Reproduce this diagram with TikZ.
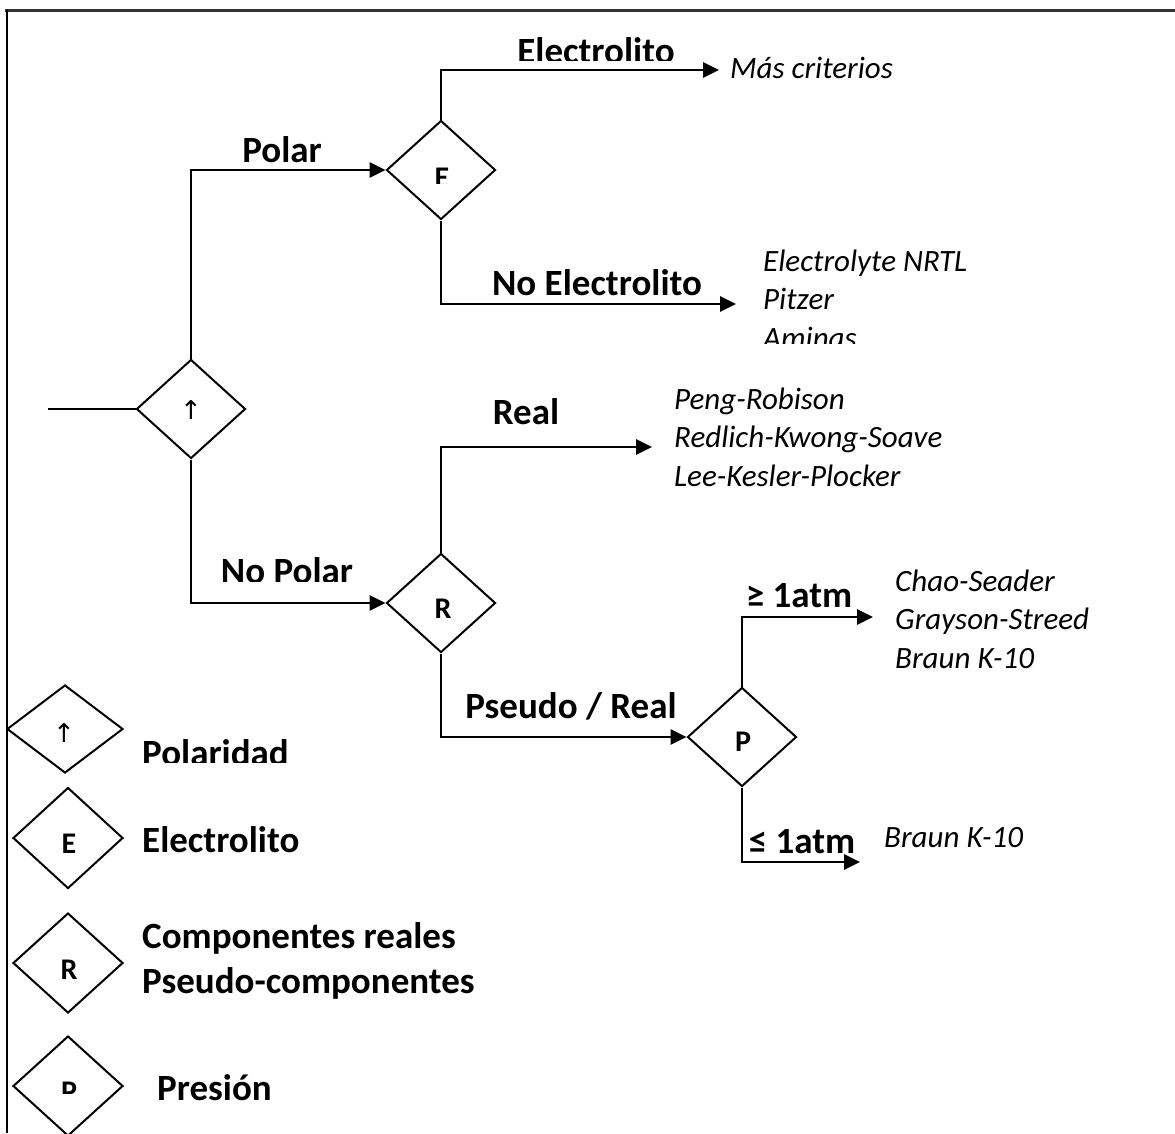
\documentclass[tikz,border=0pt]{standalone}
\usepackage{fontspec}
\setmainfont{Carlito}
\newfontfamily\symfont{DejaVu Sans}
\usetikzlibrary{shapes.geometric,arrows.meta}

\begin{document}
\begin{tikzpicture}[x=1pt,y=-1pt,
  decision/.style={diamond, draw, line width=2pt, inner sep=0pt,
    minimum width=109pt, minimum height=99pt},
  letter/.style={font=\fontsize{30}{30}\selectfont\bfseries, anchor=base, inner sep=0pt},
  arrowsym/.style={font=\symfont\fontsize{26}{26}\selectfont, inner sep=0pt},
  conn/.style={line width=2.7pt, -{Triangle[length=16pt,width=15pt]}},
  branch/.style={font=\fontsize{37}{37}\selectfont\bfseries, anchor=base, inner sep=0pt},
  model/.style={font=\fontsize{31}{31}\selectfont\itshape, anchor=base west, inner sep=0pt},
  legtext/.style={font=\fontsize{37}{37}\selectfont\bfseries, anchor=base west, inner sep=0pt},
]
\useasboundingbox (0,0) rectangle (1175,1133);

% frame
\draw[line width=3pt, black!80] (5,10) -- (1175,10);
\draw[line width=2.2pt] (7,10) -- (7,1133);

% decision nodes
\node[decision] (pol) at (191,409) {};
\node[decision] (elec) at (441,170) {};
\node[decision] (comp) at (441,603) {};
\node[decision] (pres) at (742,737) {};

\node[arrowsym] (poltxt) at (191,410) {↑};
\begin{scope}
  \clip (400,150) rectangle (480,183);
  \node[letter] (electxt) at (442,187) {E};
\end{scope}
\node[letter] (comptxt) at (443,618) {R};
\node[letter] (prestxt) at (743,751) {P};

% free ends
\coordinate (in) at (48,409);
\coordinate (mas) at (719,70);
\coordinate (noel) at (736,304);
\coordinate (realend) at (652,447);
\coordinate (hiP) at (873,617);
\coordinate (loP) at (860,862);

% connectors
\draw[line width=2.4pt] (in) -- (pol.west);
\draw[conn] (pol.north) |- (elec.west);
\draw[conn] (pol.south) |- (comp.west);
\draw[conn] (elec.north) |- (mas);
\draw[conn] (elec.south) |- (noel);
\draw[conn] (comp.north) |- (realend);
\draw[conn] (comp.south) |- (pres.west);
\draw[conn] (pres.north) |- (hiP);
\draw[conn] (pres.south) |- (loP);

% branch labels
\begin{scope}
  \clip (400,0) rectangle (800,60);
  \node[branch] (lElec) at (596,63) {Electrolito};
\end{scope}
\node[branch] (lPolar) at (282,162) {Polar};
\node[branch] (lNoElec) at (597,295) {No Electrolito};
\node[branch] (lReal) at (526,424) {Real};
\begin{scope}
  \clip (150,500) rectangle (420,581);
  \node[branch] (lNoPolar) at (287,583) {No Polar};
\end{scope}
\node[branch] (lPseudo) at (571,718) {Pseudo / Real};
\node[branch] (lHi) at (799,607) {≥ 1atm};
\node[branch] (lLo) at (802,853) {≤ 1atm};

% models
\node[model] (mMas) at (730,78) {Más criterios};
\node[model] (mENRTL) at (763,271) {Electrolyte NRTL};
\node[model] (mPitzer) at (763,309.5) {Pitzer};
\begin{scope}
  \clip (740,300) rectangle (1000,343);
  \node[model] (mAminas) at (763,348) {Aminas};
\end{scope}
\node[model] (mPR) at (674,409) {Peng-Robison};
\node[model] (mRKS) at (674,447) {Redlich-Kwong-Soave};
\node[model] (mLKP) at (674,486) {Lee-Kesler-Plocker};
\node[model] (mCS) at (895,591) {Chao-Seader};
\node[model] (mGS) at (895,629) {Grayson-Streed};
\node[model] (mBK1) at (895,668) {Braun K-10};
\node[model] (mBK2) at (884,847) {Braun K-10};

% legend
\node[decision, minimum width=116pt, minimum height=88pt] (kpol) at (65,729) {};
\node[arrowsym] (kpoltxt) at (64,733) {↑};
\begin{scope}
  \clip (130,700) rectangle (400,762);
  \node[legtext] (kpolname) at (142,765) {Polaridad};
\end{scope}

\node[decision, minimum width=110pt, minimum height=101pt] (kelec) at (68,838) {};
\node[letter] (kelectxt) at (69,853) {E};
\node[legtext] (kelecname) at (142,852) {Electrolito};

\node[decision, minimum width=110pt, minimum height=100pt] (kcomp) at (68,963) {};
\node[letter] (kcomptxt) at (69,979) {R};
\node[legtext] (kcompname1) at (142,948) {Componentes reales};
\node[legtext] (kcompname2) at (142,993) {Pseudo-componentes};

\node[decision, minimum width=110pt, minimum height=100pt] (kpres) at (68,1086) {};
\begin{scope}
  \clip (40,1060) rectangle (100,1093);
  \node[letter] (kprestxt) at (69,1101) {P};
\end{scope}
\node[legtext] (kpresname) at (157,1100) {Presión};
\end{tikzpicture}
\end{document}
